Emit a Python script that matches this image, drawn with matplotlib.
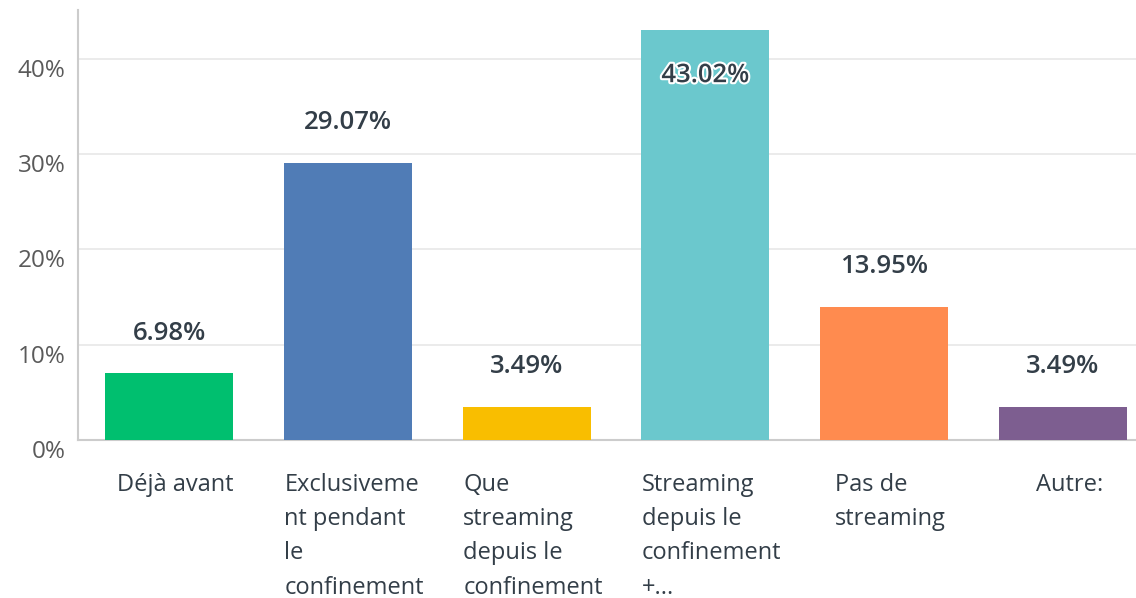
import matplotlib.pyplot as plt
import matplotlib.patheffects as pe
from matplotlib.ticker import FuncFormatter

# data
categories = ["Déjà avant",
              "Exclusiveme\nnt pendant\nle\nconfinement",
              "Que\nstreaming\ndepuis le\nconfinement",
              "Streaming\ndepuis le\nconfinement\n+...",
              "Pas de\nstreaming",
              "Autre:"]
values = [6.98, 29.07, 3.49, 43.02, 13.95, 3.49]
colors = ["#00BF6F", "#507CB6", "#F9BE00", "#6BC8CD", "#FF8B4F", "#7D5E90"]
yticks = [0, 10, 20, 30, 40]

plt.rcParams['font.family'] = ['Open Sans', 'DejaVu Sans']

fig = plt.figure(figsize=(11.36, 5.98), dpi=100)
ax = fig.add_axes([78 / 1136, 158 / 598, 1 - 78 / 1136, 430 / 598])

x = list(range(len(values)))
ax.bar(x, values, width=0.716, color=colors, zorder=3)

ax.set_xlim(-0.509, 5.408)
ax.set_ylim(0, 45.1)

# value labels: above the bar, or inside when it would not fit
for xi, v in zip(x, values):
    if v > 40:
        t = ax.annotate(f"{v:.2f}%", (xi, v), xytext=(0, -33), textcoords="offset points",
                        ha="center", va="center", fontsize=18.5, fontweight="semibold",
                        color="#333E48", zorder=5)
        t.set_path_effects([pe.withStroke(linewidth=3, foreground="white")])
    else:
        ax.annotate(f"{v:.2f}%", (xi, v), xytext=(0, 29), textcoords="offset points",
                    ha="center", va="center", fontsize=18.5, fontweight="semibold",
                    color="#333E48", zorder=5)

# category labels: block centred under the bar, lines left aligned
ax.set_xticks(x)
ax.set_xticklabels([])
ax.tick_params(axis="x", length=0)
for xi, cat in zip(x, categories):
    ax.annotate(cat, (xi, 0), xytext=(4.5, -24), textcoords="offset points",
                ha="center", va="top", multialignment="left", linespacing=1.56,
                fontsize=17, color="#333E48", annotation_clip=False)

ax.set_yticks(yticks)
ax.yaxis.set_major_formatter(FuncFormatter(lambda v, p: f"{v:.0f}%"))
for lab in ax.get_yticklabels():
    lab.set_verticalalignment("top")
ax.tick_params(axis="y", length=0, pad=9, labelsize=17.5, labelcolor="#5A5A5A")
ax.grid(axis="y", color="#E8E8E8", linewidth=1.2, zorder=0)

for side in ["top", "right"]:
    ax.spines[side].set_visible(False)
ax.spines["left"].set_color("#CCCCCC")
ax.spines["bottom"].set_color("#CCCCCC")
ax.spines["left"].set_linewidth(1.5)
ax.spines["bottom"].set_linewidth(1.5)

fig.savefig("out.png", dpi=100)
plt.close("all")
